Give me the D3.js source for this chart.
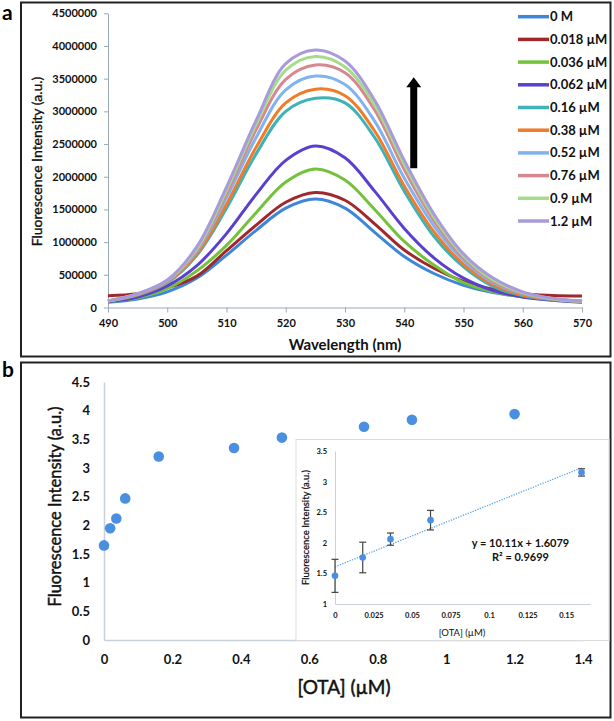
<!DOCTYPE html>
<html><head><meta charset="utf-8">
<script src="https://cdn.jsdelivr.net/npm/d3@7"></script>
<style>
body{margin:0;background:#fff}
svg{display:block;font-family:Lato,"Open Sans",sans-serif}
</style></head>
<body><svg id="c" width="614" height="721"></svg>
<script>
// ---------- Panel a data ----------
const wavelengths = [490,495,500,505,510,515,520,525,530,535,540,545,550,555,560,565,570];
const seriesNames = ["0 M","0.018 µM","0.036 µM","0.062 µM","0.16 µM","0.38 µM","0.52 µM","0.76 µM","0.9 µM","1.2 µM"];
const seriesColors = ["#3d86d9","#a0282c","#74c23c","#5b40cf","#3db3b5","#f07b2a","#80b3ef","#d6878f","#a4dc89","#a99bdb"];
const spec_0M    = [80000,130000,240000,450000,800000,1180000,1520000,1660000,1520000,1150000,780000,520000,340000,230000,165000,125000,95000];
const spec_0018  = [180000,210000,300000,480000,870000,1260000,1610000,1760000,1640000,1280000,880000,600000,400000,280000,210000,185000,175000];
const spec_0036  = [90000,150000,290000,560000,950000,1450000,1920000,2120000,1950000,1500000,1010000,650000,380000,240000,160000,120000,100000];
const spec_0062  = [90000,160000,330000,640000,1130000,1730000,2250000,2470000,2290000,1780000,1210000,760000,450000,260000,160000,110000,80000];
const spec_016   = [100000,190000,380000,800000,1520000,2350000,3000000,3200000,3130000,2600000,1780000,1090000,620000,320000,180000,120000,90000];
const spec_038   = [100000,195000,390000,820000,1580000,2450000,3130000,3340000,3240000,2700000,1860000,1160000,660000,350000,190000,125000,90000];
const spec_052   = [100000,200000,400000,860000,1680000,2600000,3330000,3540000,3410000,2850000,1980000,1250000,720000,380000,210000,130000,95000];
const spec_076   = [100000,205000,410000,880000,1740000,2720000,3490000,3710000,3590000,3020000,2110000,1330000,760000,400000,220000,135000,95000];
const spec_09    = [100000,210000,415000,900000,1790000,2800000,3630000,3840000,3680000,3100000,2190000,1380000,790000,420000,230000,135000,95000];
const spec_12    = [100000,210000,420000,930000,1840000,2860000,3730000,3940000,3770000,3170000,2250000,1430000,820000,450000,240000,140000,95000];
const spectra = [spec_0M,spec_0018,spec_0036,spec_0062,spec_016,spec_038,spec_052,spec_076,spec_09,spec_12];
const yTicksA = [0,500000,1000000,1500000,2000000,2500000,3000000,3500000,4000000,4500000];
const xTicksA = [490,500,510,520,530,540,550,560,570];

// ---------- Panel b data ----------
const otaConc = [0,0.018,0.036,0.062,0.16,0.38,0.52,0.76,0.9,1.2];
const otaIntensity = [1.65,1.95,2.12,2.47,3.2,3.35,3.53,3.72,3.84,3.94];
const xTicksB = [0,0.2,0.4,0.6,0.8,1,1.2,1.4];
const yTicksB = [0,0.5,1,1.5,2,2.5,3,3.5,4,4.5];
// inset
const insetConc = [0,0.018,0.036,0.062,0.16];
const insetMean = [1.46,1.76,2.06,2.37,3.15];
const insetErr  = [0.27,0.25,0.1,0.16,0.06];
const fitSlope = 10.11, fitIntercept = 1.6079;
const xTicksI = [0,0.025,0.05,0.075,0.1,0.125,0.15];
const yTicksI = [1,1.5,2,2.5,3,3.5];

const svg = d3.select("#c");
const fmt = d3.format("~g");
// semi-bold look via a thin outline
const semi = sel => sel.attr("stroke","#111").attr("stroke-width",0.35);

// ---------- panel frames ----------
svg.append("rect").attr("x",21).attr("y",2.5).attr("width",589.5).attr("height",354).attr("fill","none").attr("stroke","#222").attr("stroke-width",2);
svg.append("rect").attr("x",21).attr("y",362.5).attr("width",589.5).attr("height",355).attr("fill","none").attr("stroke","#222").attr("stroke-width",2);
svg.append("text").attr("x",2).attr("y",20).attr("font-size",21).attr("font-weight",700).text("a");
svg.append("text").attr("x",2).attr("y",377).attr("font-size",21).attr("font-weight",700).text("b");

// ---------- Panel a ----------
const xA = d3.scaleLinear().domain([490,570]).range([108,582]);
const yA = d3.scaleLinear().domain([0,4500000]).range([307.5,13.3]);
const axisCol = "#9aa9b8";

const gya = svg.append("g").attr("transform","translate(108,0)")
  .call(d3.axisLeft(yA).tickValues(yTicksA).tickFormat(d3.format("d")).tickSize(4).tickSizeOuter(0).tickPadding(7));
const gxa = svg.append("g").attr("transform","translate(0,307.5)")
  .call(d3.axisBottom(xA).tickValues(xTicksA).tickFormat(d3.format("d")).tickSize(5).tickSizeOuter(0).tickPadding(7));
[gya,gxa].forEach(g=>{
  g.selectAll("path,line").attr("stroke",axisCol);
  g.selectAll("text").attr("font-family","Lato,sans-serif").attr("font-size",11).attr("font-weight",700).attr("fill","#111");
});

const line = d3.line().x((d,i)=>xA(wavelengths[i])).y(d=>yA(d)).curve(d3.curveCatmullRom);
spectra.forEach((s,k)=>{
  svg.append("path").attr("d",line(s)).attr("fill","none").attr("stroke",seriesColors[k]).attr("stroke-width",3).attr("stroke-linejoin","round");
});

// legend
seriesNames.forEach((n,k)=>{
  const yy = 16.7 + k*22.7;
  svg.append("line").attr("x1",518).attr("x2",549).attr("y1",yy).attr("y2",yy).attr("stroke",seriesColors[k]).attr("stroke-width",3.5);
  svg.append("text").attr("x",550).attr("y",yy).attr("dy","0.35em").attr("font-size",13).attr("font-weight",700).attr("fill","#111").text(n);
});

// arrow
const ax = xA(541.6);
svg.append("rect").attr("x",ax-3.5).attr("y",yA(3400000)).attr("width",7).attr("height",yA(2130000)-yA(3400000)).attr("fill","#000");
svg.append("path").attr("d",`M${ax-7.5},${yA(3370000)} L${ax},${yA(3520000)} L${ax+7.5},${yA(3370000)} Z`).attr("fill","#000");

svg.append("text").attr("x",345).attr("y",345).attr("dy","0.35em").attr("text-anchor","middle").attr("font-size",15).attr("font-weight",700).attr("fill","#111").text("Wavelength (nm)");
svg.append("text").attr("transform","translate(37,161.5) rotate(-90)").attr("dy","0.35em").attr("text-anchor","middle").attr("font-size",14).attr("fill","#111").call(semi).text("Fluorescence Intensity (a.u.)");

// ---------- Panel b ----------
const xB = d3.scaleLinear().domain([0,1.4]).range([104,583]);
const yB = d3.scaleLinear().domain([0,4.5]).range([640,382]);
const axisColB = "#c6d1db";
const gyb = svg.append("g").attr("transform","translate(104,0)")
  .call(d3.axisLeft(yB).tickValues(yTicksB).tickFormat(fmt).tickSize(0).tickPadding(14));
const gxb = svg.append("g").attr("transform","translate(0,640)")
  .call(d3.axisBottom(xB).tickValues(xTicksB).tickFormat(fmt).tickSize(0).tickPadding(15));
[gyb,gxb].forEach(g=>{
  g.selectAll("path,line").attr("stroke",axisColB).attr("stroke-width",1.5);
  g.selectAll("text").attr("font-family","Lato,sans-serif").attr("font-size",13).attr("font-weight",700).attr("fill","#111");
});
svg.selectAll(null).data(otaConc).enter().append("circle")
  .attr("cx",(d)=>xB(d)).attr("cy",(d,i)=>yB(otaIntensity[i])).attr("r",5.3).attr("fill","#4a8fe0");

svg.append("text").attr("x",344).attr("y",687).attr("dy","0.35em").attr("text-anchor","middle").attr("font-size",19).attr("fill","#111").call(semi).attr("stroke-width",0.5).text("[OTA] (µM)");
svg.append("text").attr("transform","translate(55,506.5) rotate(-90)").attr("dy","0.35em").attr("text-anchor","middle").attr("font-size",16.5).attr("fill","#111").call(semi).attr("stroke-width",0.45).text("Fluorescence Intensity (a.u.)");

// ---------- Inset ----------
svg.append("rect").attr("x",296).attr("y",439.5).attr("width",313).attr("height",201).attr("fill","#fff").attr("stroke","#dcdcdc").attr("stroke-width",1);
const xI = d3.scaleLinear().domain([0,0.1655]).range([335,590]);
const yI = d3.scaleLinear().domain([1,3.5]).range([604,451]);
const gyi = svg.append("g").attr("transform","translate(335,0)")
  .call(d3.axisLeft(yI).tickValues(yTicksI).tickFormat(fmt).tickSize(0).tickPadding(8));
const gxi = svg.append("g").attr("transform","translate(0,604)")
  .call(d3.axisBottom(xI).tickValues(xTicksI).tickFormat(fmt).tickSize(0).tickPadding(9));
[gyi,gxi].forEach(g=>{
  g.selectAll("path,line").attr("stroke",axisColB).attr("stroke-width",1);
  g.selectAll("text").attr("font-family","Lato,sans-serif").attr("font-size",7.5).attr("font-weight",700).attr("fill","#111");
});
// trendline
const fitX = [0, 0.16];
svg.append("line").attr("x1",xI(fitX[0])).attr("y1",yI(fitIntercept+fitSlope*fitX[0]))
  .attr("x2",xI(fitX[1])).attr("y2",yI(fitIntercept+fitSlope*fitX[1]))
  .attr("stroke","#5aa6e6").attr("stroke-width",1.3).attr("stroke-dasharray","1.3,1.3");
// error bars
insetConc.forEach((c,i)=>{
  const cx = xI(c), y1 = yI(insetMean[i]+insetErr[i]), y2 = yI(insetMean[i]-insetErr[i]);
  const g = svg.append("g").attr("stroke","#444").attr("stroke-width",1.2);
  g.append("line").attr("x1",cx).attr("x2",cx).attr("y1",y1).attr("y2",y2);
  g.append("line").attr("x1",cx-3.5).attr("x2",cx+3.5).attr("y1",y1).attr("y2",y1);
  g.append("line").attr("x1",cx-3.5).attr("x2",cx+3.5).attr("y1",y2).attr("y2",y2);
});
svg.selectAll(null).data(insetConc).enter().append("circle")
  .attr("cx",d=>xI(d)).attr("cy",(d,i)=>yI(insetMean[i])).attr("r",3.3).attr("fill","#4a8fe0");

svg.append("text").attr("x",520.5).attr("y",543.3).attr("dy","0.35em").attr("text-anchor","middle").attr("font-size",11).attr("font-weight",700).attr("fill","#111").text("y = 10.11x + 1.6079");
svg.append("text").attr("x",520.5).attr("y",556.7).attr("dy","0.35em").attr("text-anchor","middle").attr("font-size",11).attr("font-weight",700).attr("fill","#111").text("R² = 0.9699");
svg.append("text").attr("x",462).attr("y",632.7).attr("dy","0.35em").attr("text-anchor","middle").attr("font-size",9.5).attr("fill","#111").text("[OTA] (µM)");
svg.append("text").attr("transform","translate(306,527.5) rotate(-90)").attr("dy","0.35em").attr("text-anchor","middle").attr("font-size",9.5).attr("fill","#111").call(semi).attr("stroke-width",0.25).text("Fluorescence Intensity (a.u.)");
</script></body></html>
